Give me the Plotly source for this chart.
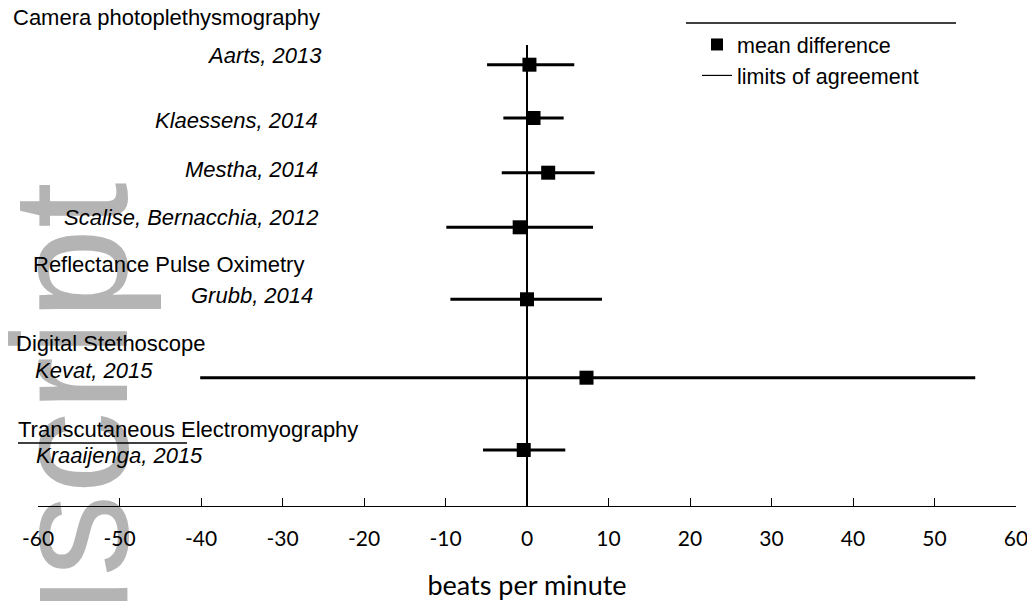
import plotly.graph_objects as go

# ---------------- data ----------------
studies = ["Aarts, 2013", "Klaessens, 2014", "Mestha, 2014",
           "Scalise, Bernacchia, 2012", "Grubb, 2014", "Kevat, 2015",
           "Kraaijenga, 2015"]
mean_diff = [0.3, 0.8, 2.6, -0.9, 0.0, 7.3, -0.4]
loa_lower = [-4.9, -2.9, -3.1, -9.9, -9.4, -40.1, -5.4]
loa_upper = [5.8, 4.5, 8.3, 8.1, 9.2, 55.0, 4.7]
groups = ["Camera photoplethysmography", "Reflectance Pulse Oximetry",
          "Digital Stethoscope", "Transcutaneous Electromyography"]
tick_vals = [-60, -50, -40, -30, -20, -10, 0, 10, 20, 30, 40, 50, 60]
tick_labels = ["-60", "-50", "-40", "-30", "-20", "-10", "0", "10", "20",
               "30", "40", "50", "60"]
x_title = "beats per minute"
legend_names = ["mean difference", "limits of agreement"]
watermark = "Manuscript"

# ---------------- layout constants ----------------
# page body has an 8px margin; positions below are given in window pixels
OFF = 8
W, H = 1035 - OFF, 601 - OFF
AX_LEFT, AX_RIGHT, AX_BOTTOM = 38, 1016, 506   # window pixels
ML = AX_LEFT - OFF
MR = W - (AX_RIGHT - OFF)
MT = 0
MB = H - (AX_BOTTOM - OFF)
PW = W - ML - MR
PH = H - MT - MB
Y_TOP = OFF                       # window y at top of plot area

ROW_Y = [64.7, 118, 172.7, 227.3, 299.3, 377.7, 450]
STUDY_LABEL_POS = [("right", 324, 55.5), ("right", 320, 120.5),
                   ("right", 320, 169.5), ("right", 320, 217.5),
                   ("right", 315, 295.5), ("left", 33, 370),
                   ("left", 34, 455.5)]
GROUP_LABEL_POS = [(11, 17.5), (31, 264.5), (14, 343), (16, 429.5)]

ARIAL = "Liberation Sans, Arial, sans-serif"
AXFONT = "Lato, Calibri, sans-serif"


def px(xw):
    return (xw - AX_LEFT) / PW


def py(yw):
    return (AX_BOTTOM - yw) / PH


fig = go.Figure()

# limits of agreement
lx, ly = [], []
for lo, hi, ry in zip(loa_lower, loa_upper, ROW_Y):
    lx += [lo, hi, None]
    ly += [ry, ry, None]
fig.add_trace(go.Scatter(x=lx, y=ly, mode="lines",
                         line=dict(color="black", width=3),
                         showlegend=False, hoverinfo="skip"))
# mean differences
fig.add_trace(go.Scatter(x=mean_diff, y=ROW_Y, mode="markers",
                         marker=dict(symbol="square", size=14, color="black"),
                         text=studies, showlegend=False))
# legend entries
fig.add_trace(go.Scatter(x=[None], y=[None], mode="markers", name=legend_names[0],
                         marker=dict(symbol="square", size=12, color="black")))
fig.add_trace(go.Scatter(x=[None], y=[None], mode="lines", name=legend_names[1],
                         line=dict(color="black", width=1.2)))

shapes = []
# watermark as label of an invisible paper rect, below everything
wm_cx, wm_cy = 54, 586
shapes.append(dict(type="rect", xref="paper", yref="paper", layer="below",
                   x0=px(wm_cx - 10), x1=px(wm_cx + 10),
                   y0=py(wm_cy + 10), y1=py(wm_cy - 10),
                   line=dict(width=0), fillcolor="rgba(0,0,0,0)",
                   label=dict(text=watermark, textangle=-90,
                              textposition="middle center",
                              font=dict(family=ARIAL, size=165, color="#b4b4b4"))))
# zero line
shapes.append(dict(type="line", xref="x", yref="y", x0=0, x1=0, y0=45, y1=AX_BOTTOM,
                   line=dict(color="black", width=2), layer="below"))
# line above legend
shapes.append(dict(type="line", xref="paper", yref="y", x0=px(686), x1=px(956),
                   y0=23, y1=23, line=dict(color="black", width=1.3)))
# stray underline
shapes.append(dict(type="line", xref="paper", yref="y", x0=px(18), x1=px(187),
                   y0=443, y1=443, line=dict(color="black", width=1.3)))

annotations = []
for name, (anc, xp, yp) in zip(studies, STUDY_LABEL_POS):
    annotations.append(dict(text="<i>" + name + "</i>", xref="paper", yref="y",
                            x=px(xp), y=yp, xanchor=anc, yanchor="middle",
                            showarrow=False,
                            font=dict(family=ARIAL, size=22, color="black")))
for name, (xp, yp) in zip(groups, GROUP_LABEL_POS):
    annotations.append(dict(text=name, xref="paper", yref="y",
                            x=px(xp), y=yp, xanchor="left", yanchor="middle",
                            showarrow=False,
                            font=dict(family=ARIAL, size=22, color="black")))

fig.update_layout(
    width=W, height=H,
    margin=dict(l=ML, r=MR, t=MT, b=MB, autoexpand=False),
    paper_bgcolor="white", plot_bgcolor="rgba(0,0,0,0)",
    shapes=shapes, annotations=annotations,
    showlegend=True,
    legend=dict(x=px(697), y=py(24), xanchor="left", yanchor="top",
                bgcolor="rgba(0,0,0,0)",
                font=dict(family=ARIAL, size=21.5, color="black")),
    xaxis=dict(range=[-60, 60], tickmode="array", tickvals=tick_vals,
               ticktext=tick_labels, ticks="inside", ticklen=8, tickwidth=1.3,
               tickcolor="black", showline=True, linecolor="black", linewidth=1.3,
               showgrid=False, zeroline=False, ticklabelstandoff=14,
               tickfont=dict(family=AXFONT, size=21, color="black"),
               title=dict(text=x_title, standoff=26,
                          font=dict(family=AXFONT, size=27, color="black"))),
    yaxis=dict(range=[AX_BOTTOM, Y_TOP], visible=False, showgrid=False,
               zeroline=False),
)

fig.write_html("out.html")
